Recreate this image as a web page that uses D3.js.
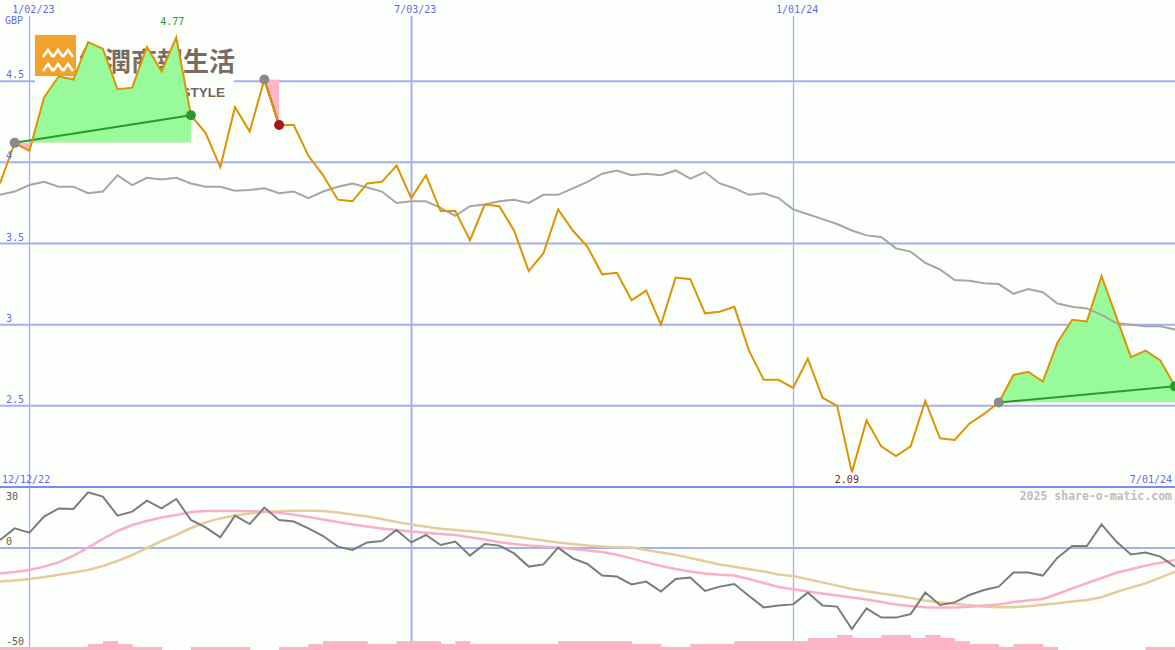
<html lang="en"><head>
<meta charset="utf-8">
<title>Share chart</title>
<script src="https://cdn.jsdelivr.net/npm/d3@7"></script>
<style>
  body { margin: 0; background: #fdfffd; }
  svg { display: block; }
</style>
</head>
<body>
<script>
// weekly closes, Mondays 19 Dec 2022 .. 1 Jul 2024
var startDate = new Date(2022, 11, 19);
var endDate = new Date(2024, 6, 1);

var price = [3.87, 4.12, 4.07, 4.40, 4.53, 4.51, 4.74, 4.70, 4.45, 4.46,
             4.71, 4.56, 4.77, 4.29, 4.18, 3.97, 4.34, 4.19, 4.51, 4.23,
             4.23, 4.04, 3.92, 3.77, 3.76, 3.87, 3.88, 3.98, 3.78, 3.92,
             3.70, 3.70, 3.52, 3.74, 3.73, 3.58, 3.33, 3.44, 3.71, 3.58,
             3.48, 3.31, 3.32, 3.15, 3.21, 3.00, 3.29, 3.28, 3.07, 3.08,
             3.11, 2.84, 2.66, 2.66, 2.61, 2.79, 2.55, 2.50, 2.09, 2.41,
             2.25, 2.19, 2.25, 2.53, 2.30, 2.29, 2.39, 2.45, 2.52, 2.69,
             2.71, 2.65, 2.89, 3.03, 3.02, 3.30, 3.05, 2.80, 2.84, 2.78, 2.62];

var average = [3.80, 3.82, 3.86, 3.88, 3.85, 3.85, 3.81, 3.82, 3.92, 3.86,
               3.905, 3.895, 3.905, 3.87, 3.85, 3.85, 3.825, 3.83, 3.84, 3.81,
               3.82, 3.78, 3.82, 3.85, 3.87, 3.845, 3.82, 3.75, 3.76, 3.76,
               3.72, 3.67, 3.73, 3.74, 3.76, 3.77, 3.75, 3.80, 3.80, 3.84,
               3.88, 3.93, 3.95, 3.92, 3.93, 3.92, 3.95, 3.90, 3.94, 3.87,
               3.84, 3.80, 3.81, 3.78, 3.71, 3.68, 3.65, 3.62, 3.58, 3.55,
               3.54, 3.47, 3.45, 3.38, 3.34, 3.275, 3.27, 3.255, 3.25, 3.19,
               3.22, 3.20, 3.13, 3.11, 3.10, 3.06, 3.01, 3.00, 2.99, 2.99, 2.97];

// lower panel
var oscillator = [4.0, 9.8, 7.7, 15.7, 19.8, 19.5, 27.8, 25.7, 16.2, 18.2,
                  23.7, 19.8, 24.5, 14, 10.3, 5.3, 16.2, 12, 20.2, 14,
                  13.2, 9.8, 6, 0.7, -1, 2.8, 3.5, 9, 2.8, 6.5,
                  1.5, 3.2, -3.8, 2, 1.2, -2.7, -9.3, -8.2, 0.2, -5.2,
                  -8, -13.8, -14.3, -18.2, -16.8, -21.8, -15.5, -14.8, -21.5, -19.3,
                  -18, -24, -29.7, -28.8, -28.2, -22.3, -28.8, -29.3, -40.5, -30.2,
                  -34.8, -34.8, -33, -22.3, -28.5, -27.2, -23.5, -21, -19.3, -12.3,
                  -12.3, -13.8, -4.8, 1, 1, 11.8, 3.2, -3.2, -2.3, -4.3, -9.3];

var fastAvg = [-12.7, -12, -11, -9.3, -7.2, -3.8, 0.2, 4.5, 8.5, 11.5,
               13.5, 15.2, 16.5, 18, 18.5, 18.5, 18.5, 18.4, 18.2, 17.6,
               16.6, 15.5, 14.3, 13, 11.8, 10.7, 9.8, 9, 8.2, 7.6,
               7, 6.5, 5.4, 4.2, 2.9, 2, 1.2, 0.7, 0.2, -0.5,
               -1.3, -2, -3.4, -5.2, -7.2, -9, -10.5, -11.8, -12.8, -13.4,
               -13.8, -15.5, -17.5, -19.5, -20.6, -21.7, -22.8, -23.8, -24.8, -25.8,
               -27, -28.2, -29, -29.6, -29.8, -29.7, -29.4, -28.8, -28.2, -27,
               -26.3, -25.5, -23, -20.2, -17.6, -15, -12.4, -10.6, -8.8, -7.4, -6];

var slowAvg = [-16.8, -16.2, -15.5, -14.5, -13.4, -12.3, -11, -9, -6.5, -3.5,
               0, 3.5, 6.5, 10, 12.8, 14.8, 16.2, 17.3, 18, 18.4,
               18.6, 18.6, 18.5, 17.8, 16.8, 15.7, 14.5, 13, 11.8, 10.6,
               9.6, 9, 8.4, 7.8, 6.8, 5.8, 4.8, 3.8, 2.8, 2,
               1.2, 0.7, 0.4, 0.2, -1, -2.2, -3.4, -5, -6.6, -8.2,
               -9.4, -10.6, -11.8, -13.2, -14, -15.6, -17.2, -18.8, -20.5, -21.6,
               -22.8, -23.8, -25, -26.2, -27.2, -27.9, -28.6, -29.2, -29.6, -29.6,
               -29.1, -28.4, -27.6, -26.8, -26, -24.6, -22, -19.8, -17.7, -14.8, -11.8];

var volume = [1, 1, 1, 1, 1, 1, 2, 3, 2, 1,
              1, 0, 0, 1, 1, 1, 1, 0, 0, 1,
              1, 2, 3, 3, 3, 2, 2, 3, 3, 3,
              2, 3, 2, 2, 2, 2, 2, 2, 3, 3,
              3, 3, 3, 2, 2, 1, 1, 2, 2, 2,
              3, 3, 3, 3, 3, 4, 4, 5, 4, 4,
              5, 5, 4, 5, 4, 3, 2, 2, 1, 2,
              2, 1, 0, 0, 0, 0, 0, 0, 1, 1, 1];

// [start week, end week]
var signals = [[1, 13], [18, 19], [68, 80]];

var gridDates = ["2023-01-02", "2023-07-03", "2024-01-01"];
var priceTicks = [4.5, 4, 3.5, 3, 2.5];
var oscTicks = [30, 0, -50];

var w = 1175, h = 650;
var mainBottom = 487;

var dates = d3.timeMonday.range(startDate, d3.timeDay.offset(endDate, 1));
var parse = d3.timeParse("%Y-%m-%d");
var fmt = d3.timeFormat("%-m/%d/%y");

var x = d3.scaleTime().domain([startDate, endDate]).range([0, w]);
var y = d3.scaleLinear().domain([2, 5]).range([mainBottom, 0]);
var y2 = d3.scaleLinear().domain([-50, 30]).range([648, 488]);
var vh = d3.scaleLinear().domain([0, 5]).range([0, 15]);

var svg = d3.select("body").append("svg")
    .attr("width", w)
    .attr("height", h)
    .style("font-family", "'DejaVu Sans Mono', monospace");

svg.append("rect").attr("width", w).attr("height", h).attr("fill", "#fdfffd");

// grid
svg.selectAll("line.hgrid")
   .data(priceTicks)
   .enter().append("line")
   .attr("x1", 0).attr("x2", w)
   .attr("y1", function(d) { return y(d); })
   .attr("y2", function(d) { return y(d); })
   .attr("stroke", "#a3b0f2").attr("stroke-width", 2);

svg.selectAll("line.vgrid")
   .data(gridDates.map(parse))
   .enter().append("line")
   .attr("x1", function(d) { return Math.round(x(d)) + 0.5; })
   .attr("x2", function(d) { return Math.round(x(d)) + 0.5; })
   .attr("y1", 16).attr("y2", h)
   .attr("stroke", "#a3b0f2")
   .attr("stroke-width", function(d) { return d.getMonth() === 0 ? 1.3 : 2; });

svg.append("line")
   .attr("x1", 0).attr("x2", w)
   .attr("y1", y2(0)).attr("y2", y2(0))
   .attr("stroke", "#a3b0f2").attr("stroke-width", 2);

svg.append("line")
   .attr("x1", 0).attr("x2", w)
   .attr("y1", mainBottom).attr("y2", mainBottom)
   .attr("stroke", "#7b8cf0").attr("stroke-width", 2);

// watermark logo
var logo = svg.append("g");
logo.append("rect").attr("x", 35).attr("y", 34).attr("width", 199).attr("height", 67).attr("fill", "#fdfffd");
logo.append("rect").attr("x", 35).attr("y", 35).attr("width", 41).attr("height", 41).attr("fill", "#f2a22a");
[[48, 50], [58, 50], [68, 50], [48, 64], [58, 64], [68, 64]].forEach(function(c) {
  logo.append("path")
      .attr("d", "M" + (c[0] - 5) + "," + (c[1] + 7) + "L" + c[0] + "," + c[1] + "L" + (c[0] + 5) + "," + (c[1] + 7))
      .attr("fill", "none").attr("stroke", "#fff").attr("stroke-width", 2.6);
});
logo.append("text").attr("x", 79).attr("y", 71)
    .attr("font-family", "'Noto Sans CJK TC', sans-serif").attr("font-weight", "bold")
    .attr("font-size", 26).attr("fill", "#7a6b62")
    .text("網潤商報生活");
logo.append("text").attr("x", 225).attr("y", 97).attr("text-anchor", "end")
    .attr("font-family", "'Liberation Sans', Arial, sans-serif").attr("font-weight", "bold")
    .attr("font-size", 13.5).attr("fill", "#74665d")
    .text("LIFESTYLE");

// signal fills
signals.forEach(function(s, k) {
  var idx = d3.range(s[0], s[1] + 1);
  var y0 = y(price[s[0]]);
  var area = d3.area()
      .x(function(i) { return x(dates[i]); })
      .y0(y0)
      .y1(function(i) { return y(price[i]); });
  svg.append("clipPath").attr("id", "up" + k)
     .append("rect").attr("x", 0).attr("y", 0).attr("width", w).attr("height", y0);
  svg.append("clipPath").attr("id", "dn" + k)
     .append("rect").attr("x", 0).attr("y", y0).attr("width", w).attr("height", mainBottom - y0);
  svg.append("path").datum(idx).attr("d", area)
     .attr("fill", "#98fa98").attr("clip-path", "url(#up" + k + ")");
  svg.append("path").datum(idx).attr("d", area)
     .attr("fill", "#ffb6c6").attr("clip-path", "url(#dn" + k + ")");
});

// volume
var step = x(dates[1]) - x(dates[0]);
svg.selectAll("rect.vol")
   .data(volume)
   .enter().append("rect")
   .attr("x", function(d, i) { return x(dates[i]); })
   .attr("width", step + 0.5)
   .attr("y", function(d) { return h - vh(d); })
   .attr("height", function(d) { return vh(d); })
   .attr("fill", "#fbb4c8");

function drawLine(values, scale, colour, width) {
  var line = d3.line()
      .x(function(d, i) { return x(dates[i]); })
      .y(function(d) { return scale(d); });
  svg.append("path").datum(values).attr("d", line)
     .attr("fill", "none").attr("stroke", colour).attr("stroke-width", width);
}

drawLine(average, y, "#a6a6a6", 2);
drawLine(slowAvg, y2, "#e6cc9c", 2.5);
drawLine(fastAvg, y2, "#fbafc6", 2.5);
drawLine(oscillator, y2, "#7c7c7c", 2);

// signal lines
signals.forEach(function(s) {
  var up = price[s[1]] >= price[s[0]];
  svg.append("line")
     .attr("x1", x(dates[s[0]])).attr("y1", y(price[s[0]]))
     .attr("x2", x(dates[s[1]])).attr("y2", y(price[s[1]]))
     .attr("stroke", up ? "#2a9a2a" : "#a31818").attr("stroke-width", 2);
});

drawLine(price, y, "#de9300", 2);

// signal dots
signals.forEach(function(s) {
  var up = price[s[1]] >= price[s[0]];
  svg.append("circle").attr("cx", x(dates[s[0]])).attr("cy", y(price[s[0]]))
     .attr("r", 5).attr("fill", "#8a8a8a");
  svg.append("circle").attr("cx", x(dates[s[1]])).attr("cy", y(price[s[1]]))
     .attr("r", 5).attr("fill", up ? "#2a9a2a" : "#a31818");
});

// labels
var blue = "#5a6cf2";
svg.selectAll("text.date")
   .data(gridDates.map(parse))
   .enter().append("text")
   .attr("x", function(d) { return x(d) + 4; })
   .attr("y", 13)
   .attr("text-anchor", "middle")
   .attr("font-size", 10).attr("fill", blue)
   .text(function(d) { return fmt(d); });

svg.append("text").attr("x", 5).attr("y", 24).attr("font-size", 10).attr("fill", blue).text("GBP");

svg.selectAll("text.ptick")
   .data(priceTicks)
   .enter().append("text")
   .attr("x", 6)
   .attr("y", function(d) { return y(d) - 3; })
   .attr("font-size", 10).attr("fill", blue)
   .text(function(d) { return d; });

svg.append("text").attr("x", 2).attr("y", 483).attr("font-size", 10).attr("fill", blue).text("12/12/22");
svg.append("text").attr("x", 1172).attr("y", 483).attr("text-anchor", "end")
   .attr("font-size", 10).attr("fill", blue).text(fmt(endDate));

svg.selectAll("text.otick")
   .data(oscTicks)
   .enter().append("text")
   .attr("x", 6)
   .attr("y", function(d) { return d === 30 ? 500 : Math.min(y2(d) - 3, 646); })
   .attr("font-size", 10).attr("fill", "#5a5a5a")
   .text(function(d) { return d; });

svg.append("text").attr("x", 1172).attr("y", 500).attr("text-anchor", "end")
   .attr("font-size", 11.5).attr("font-weight", "bold").attr("fill", "#bdbdbd")
   .text("2025 share-o-matic.com");

var hi = d3.maxIndex(price), lo = d3.minIndex(price);
svg.append("text").attr("x", x(dates[hi]) - 4).attr("y", y(price[hi]) - 12)
   .attr("text-anchor", "middle").attr("font-size", 10).attr("fill", "#2a9a2a")
   .text(price[hi].toFixed(2));
svg.append("text").attr("x", x(dates[lo]) - 5).attr("y", y(price[lo]) + 11)
   .attr("text-anchor", "middle").attr("font-size", 10).attr("fill", "#7a1a1a")
   .text(price[lo].toFixed(2));
</script>
</body></html>
